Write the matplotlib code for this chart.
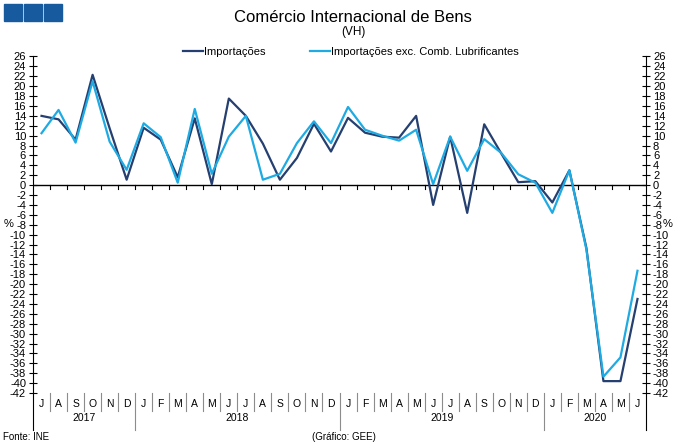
import matplotlib
matplotlib.use("Agg")
import matplotlib.pyplot as plt
import matplotlib.transforms as mtransforms
from matplotlib.patches import Rectangle
from matplotlib.lines import Line2D

plt.rcParams['font.family'] = ['Liberation Sans', 'DejaVu Sans']

# Jul 2017 .. Jun 2020, year-on-year change (%)
months = ['J', 'A', 'S', 'O', 'N', 'D',
          'J', 'F', 'M', 'A', 'M', 'J', 'J', 'A', 'S', 'O', 'N', 'D',
          'J', 'F', 'M', 'A', 'M', 'J', 'J', 'A', 'S', 'O', 'N', 'D',
          'J', 'F', 'M', 'A', 'M', 'J']
years = ['2017', '2018', '2019', '2020']
year_len = [6, 12, 12, 6]

importacoes = [14.0, 13.3, 9.2, 22.3, 11.5, 1.1,
               11.6, 9.2, 1.6, 13.5, 0.2, 17.5, 14.0, 8.4, 1.1, 5.5, 12.4, 6.8,
               13.6, 10.6, 9.8, 9.6, 14.0, -4.0, 9.8, -5.6, 12.3, 6.4, 0.6, 0.8,
               -3.5, 3.0, -12.7, -39.6, -39.6, -23.0]
imp_exc_comb = [10.5, 15.2, 8.6, 21.0, 8.8, 3.1,
                12.5, 9.7, 0.5, 15.4, 2.3, 9.8, 14.0, 1.1, 2.3, 8.5, 12.9, 8.5,
                15.8, 11.2, 10.0, 9.0, 11.2, 0.2, 9.8, 2.9, 9.3, 6.5, 2.2, 0.5,
                -5.6, 3.0, -13.0, -38.7, -34.8, -17.3]

DARK = '#243f70'
LIGHT = '#1eaae2'
GREY = '#8c8c8c'

fig = plt.figure(figsize=(6.8, 4.46), dpi=100)
ax = fig.add_axes([33 / 680, 53 / 446, 613 / 680, 336.5 / 446])

x = list(range(len(months)))
ax.plot(x, importacoes, color=DARK, lw=1.6, label='Importações', zorder=3)
ax.plot(x, imp_exc_comb, color=LIGHT, lw=1.6,
        label='Importações exc. Comb. Lubrificantes', zorder=3)

ax.set_xlim(-0.5, len(months) - 0.5)
ax.set_ylim(-42, 26)
yt = list(range(-42, 27, 2))
ax.set_yticks(yt)
ax.set_yticklabels([str(v) for v in yt])
ax.set_xticks([])
for s in ['top', 'bottom', 'right']:
    ax.spines[s].set_visible(False)
ax.spines['left'].set_linewidth(0.8)
ax.tick_params(axis='y', direction='inout', length=6, width=0.8, labelsize=8,
               pad=2, colors='black')

ax2 = ax.twinx()
ax2.set_ylim(-42, 26)
ax2.set_yticks(yt)
ax2.set_yticklabels([str(v) for v in yt])
for s in ['top', 'bottom', 'left']:
    ax2.spines[s].set_visible(False)
ax2.spines['right'].set_linewidth(0.8)
ax2.tick_params(axis='y', direction='inout', length=6, width=0.8, labelsize=8,
                pad=2)

# linha do zero com marcas nos limites dos meses
ax.axhline(0, color='black', lw=1.0, zorder=2)
for b in range(1, len(months)):
    ax.plot([b - 0.5, b - 0.5], [0, -0.8], color='black', lw=0.8, zorder=2)

# eixo de categorias (meses / anos)
trans = mtransforms.blended_transform_factory(ax.transData, ax.transAxes)
for i, m in enumerate(months):
    ax.text(i, -0.033, m, transform=trans, ha='center', va='center', fontsize=7.5)
start = 0
for y, n in zip(years, year_len):
    ax.text(start + n / 2 - 0.5, -0.075, y, transform=trans, ha='center',
            va='center', fontsize=7.5)
    start += n
year_edges = [0]
for n in year_len:
    year_edges.append(year_edges[-1] + n)
for b in range(0, len(months) + 1):
    bottom = -0.11 if b in year_edges else -0.054
    ax.add_line(Line2D([b - 0.5, b - 0.5], [0, bottom], transform=trans,
                       color=GREY if 0 < b < len(months) else 'black',
                       lw=0.8, clip_on=False))

# titulos e legenda
fig.text(353 / 680, 1 - 17 / 446, 'Comércio Internacional de Bens',
         ha='center', va='center', fontsize=12)
fig.text(353 / 680, 1 - 32 / 446, '(VH)', ha='center', va='center', fontsize=8.5)
fig.legend(loc='center', bbox_to_anchor=(351 / 680, 1 - 52 / 446), ncol=2,
           frameon=False, fontsize=8, handlelength=1.8, handletextpad=0.1,
           columnspacing=4.0)
fig.text(9 / 680, 1 - 224 / 446, '%', ha='center', va='center', fontsize=8)
fig.text(668 / 680, 1 - 224 / 446, '%', ha='center', va='center', fontsize=8)

fig.text(3 / 680, 1 - 437 / 446, 'Fonte: INE', ha='left', va='center', fontsize=7)
fig.text(312 / 680, 1 - 437 / 446, '(Gráfico: GEE)', ha='left', va='center',
         fontsize=7)

# logotipo
for x0 in [3.5, 23.5, 44]:
    fig.patches.append(Rectangle((x0 / 680, 1 - 20.7 / 446), 18 / 680, 16.7 / 446,
                                 transform=fig.transFigure, color='#175a9e'))

fig.savefig('out.png', dpi=100)
